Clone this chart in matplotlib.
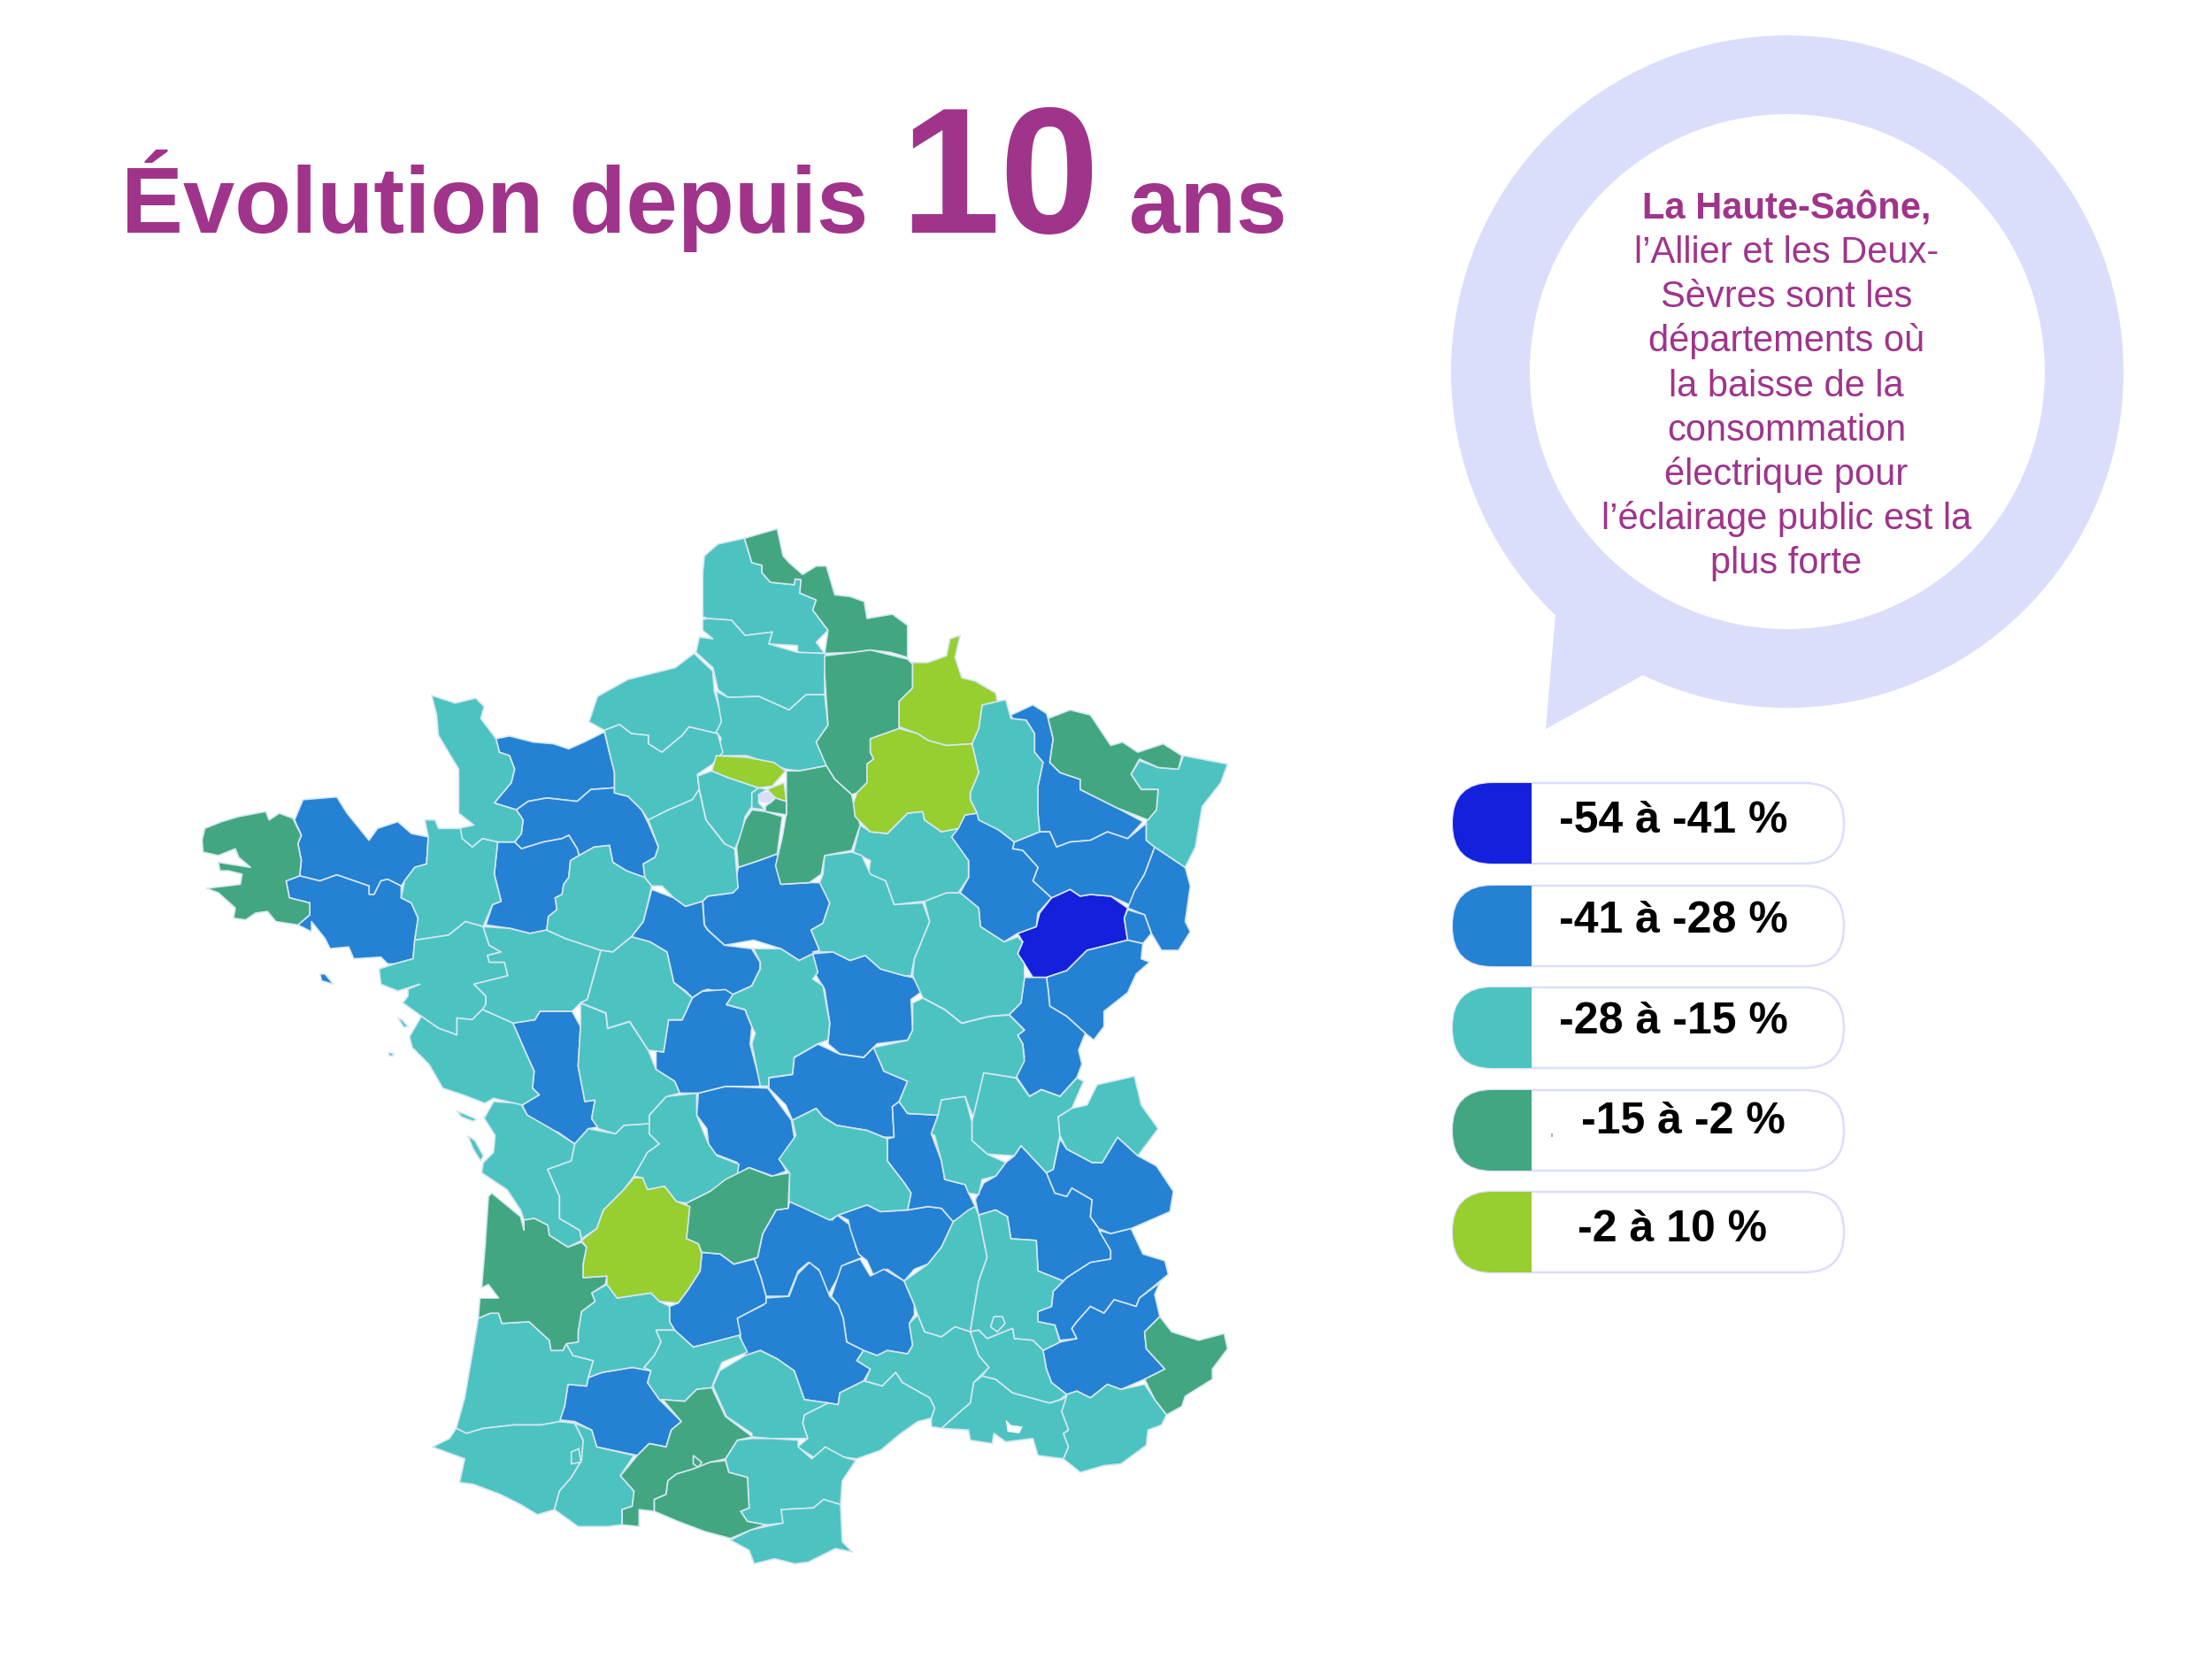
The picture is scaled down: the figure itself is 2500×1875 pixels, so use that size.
# -*- coding: utf-8 -*-
import matplotlib
matplotlib.use('Agg')
import matplotlib.pyplot as plt
from matplotlib.patches import Polygon, Circle, Rectangle, FancyBboxPatch

plt.rcParams['font.family'] = ['Liberation Sans', 'DejaVu Sans']

SCALE = 600 / 1568


# outlines were read on 4 crops of the picture, each one has its own origin
def tile(ox, oy, pts):
    return [(ox + x * SCALE, oy + y * SCALE) for x, y in pts]


def ta(pts):
    return tile(220, 590, pts)


def tb(pts):
    return tile(800, 590, pts)


def tc(pts):
    return tile(420, 1180, pts)


def td(pts):
    return tile(800, 1180, pts)


# departements
d59 = tb([(108,48),(205,20),(222,100),(240,120),(280,155),(320,130),(350,130),(375,215),(420,220),(462,235),(470,285),(545,272),(590,305),(590,400),(540,385),(480,378),(430,385),(345,388),(355,320),(310,260),(320,230),(272,210),(275,170),(258,168),(255,185),(185,178),(160,150),(160,128),(130,120)])
d62 = tb([(-10,100),(30,65),(108,48),(130,120),(160,128),(160,150),(185,178),(255,185),(258,168),(275,170),(272,210),(320,230),(310,260),(355,320),(320,355),(345,388),(265,385),(265,365),(180,360),(190,325),(110,335),(70,290),(0,285),(-15,280),(-15,150)])
d80 = tb([(-15,288),(0,285),(70,290),(110,335),(190,325),(180,360),(265,385),(345,388),(360,400),(345,450),(345,510),(290,510),(240,555),(150,515),(60,518),(30,495),(15,430),(-35,385),(-25,340),(15,345),(-15,320)])
d76 = ta([(1475,388),(1420,430),(1280,465),(1190,515),(1165,590),(1210,615),(1255,598),(1290,625),(1340,630),(1340,655),(1380,680),(1440,630),(1460,605),(1545,625),(1560,590),(1535,500),(1530,440)])
d60 = tb([(25,500),(60,518),(150,515),(240,555),(290,510),(345,510),(355,600),(320,650),(340,690),(350,720),(270,735),(230,730),(115,690),(20,690),(40,640),(25,620),(40,590)])
d27 = ta([(1210,615),(1255,598),(1290,625),(1340,630),(1340,655),(1380,680),(1440,630),(1460,605),(1545,625),(1560,680),(1530,715),(1485,745),(1490,790),(1470,820),(1400,850),(1340,880),(1320,850),(1280,810),(1240,800),(1240,740),(1225,680)])
d14 = ta([(890,640),(930,632),(1000,650),(1060,655),(1105,670),(1150,650),(1210,620),(1225,680),(1240,740),(1240,785),(1170,790),(1130,825),(1040,815),(985,825),(950,850),(885,830),(935,770),(945,730),(930,690),(900,680)])
d50 = ta([(700,512),(770,535),(830,520),(855,545),(845,580),(890,640),(900,680),(930,690),(945,730),(935,770),(885,830),(950,850),(970,880),(965,920),(945,945),(890,945),(850,935),(820,960),(790,935),(780,905),(825,895),(780,860),(780,730),(720,630),(715,570)])
d61 = ta([(950,850),(985,825),(1040,815),(1130,825),(1170,790),(1240,785),(1240,800),(1280,810),(1320,850),(1340,890),(1370,960),(1360,990),(1325,1010),(1330,1050),(1275,1030),(1235,1005),(1225,955),(1180,960),(1135,985),(1130,965),(1105,925),(1085,935),(1030,945),(965,965),(945,945),(965,920),(970,880)])
d53 = ta([(895,945),(945,945),(965,965),(1030,945),(1085,935),(1105,925),(1130,965),(1135,985),(1110,1000),(1105,1050),(1090,1070),(1085,1100),(1065,1110),(1070,1145),(1045,1165),(1040,1205),(990,1215),(930,1200),(860,1190),(880,1130),(905,1120),(885,1040)])
d35 = ta([(680,880),(710,880),(720,905),(785,905),(790,935),(820,960),(850,935),(895,945),(885,1040),(905,1120),(880,1130),(852,1195),(800,1180),(750,1220),(650,1235),(660,1170),(640,1125),(610,1110),(620,1060),(650,1020),(685,1010),(690,930)])
d22 = ta([(320,820),(420,812),(450,860),(515,940),(540,905),(600,885),(640,920),(690,930),(685,1010),(650,1020),(620,1060),(610,1075),(570,1055),(550,1060),(530,1100),(515,1100),(515,1075),(420,1042),(370,1060),(310,1045),(315,1000),(305,950),(315,925),(295,880)])
d29 = ta([(30,905),(80,885),(130,870),(210,855),(220,880),(250,860),(290,875),(315,925),(305,950),(315,1000),(310,1045),(270,1060),(280,1110),(340,1125),(340,1160),(305,1190),(240,1180),(215,1150),(180,1155),(150,1175),(115,1170),(120,1140),(70,1095),(35,1082),(135,1070),(140,1040),(100,1030),(75,1030),(70,1005),(165,1020),(130,990),(120,965),(70,985),(25,975),(22,940)])
d56 = ta([(270,1060),(310,1045),(370,1060),(420,1042),(515,1075),(515,1100),(530,1100),(550,1060),(570,1055),(610,1075),(610,1110),(640,1125),(660,1170),(650,1235),(645,1290),(590,1305),(570,1305),(550,1285),(470,1290),(455,1255),(400,1260),(385,1230),(345,1180),(345,1210),(315,1195),(305,1190),(340,1160),(340,1125),(280,1110)])
belle_ile = ta([(370,1335),(385,1335),(410,1365),(375,1355)])
d44 = ta([(650,1235),(750,1220),(800,1180),(852,1195),(870,1250),(905,1270),(865,1280),(870,1300),(915,1300),(925,1340),(825,1365),(860,1400),(860,1425),(850,1440),(820,1470),(775,1465),(775,1515),(720,1495),(670,1460),(615,1420),(630,1400),(630,1380),(665,1365),(600,1385),(550,1365),(545,1320),(590,1305),(645,1290)])
d49 = ta([(852,1195),(930,1200),(990,1215),(1040,1205),(1095,1230),(1200,1265),(1160,1410),(1140,1420),(1115,1445),(1020,1445),(1005,1470),(940,1480),(850,1440),(860,1425),(860,1400),(825,1365),(925,1340),(915,1300),(870,1300),(865,1280),(905,1270),(870,1250)])
d72 = ta([(1110,1000),(1135,985),(1180,960),(1225,955),(1235,1005),(1275,1030),(1330,1050),(1350,1075),(1340,1120),(1325,1180),(1290,1225),(1235,1270),(1200,1265),(1095,1230),(1040,1205),(1045,1165),(1070,1145),(1065,1110),(1085,1100),(1090,1070),(1105,1050)])
d28 = ta([(1340,880),(1400,850),(1470,820),(1490,790),(1510,880),(1565,950),(1595,965),(1600,1020),(1605,1080),(1590,1095),(1515,1105),(1500,1120),(1450,1135),(1415,1110),(1380,1075),(1350,1075),(1330,1050),(1325,1010),(1360,990),(1370,960)])
d78 = tb([(-30,750),(12,735),(60,755),(150,785),(130,800),(130,840),(110,870),(100,920),(80,965),(50,950),(-5,880),(-25,790)])
d95 = tb([(12,735),(25,690),(115,695),(195,710),(230,735),(190,780),(150,785),(60,755)])
d93 = tb([(175,790),(225,770),(232,825),(200,815)])
d92 = tb([(150,785),(175,790),(150,805),(150,830),(170,850),(130,845),(130,800)])
d75 = tb([(150,805),(175,798),(200,815),(185,830),(155,825)])
d94 = tb([(170,840),(200,815),(232,825),(232,865),(170,855)])
d91 = tb([(130,850),(170,855),(220,870),(205,980),(150,1000),(90,1020),(85,960),(110,880)])
d77 = tb([(232,735),(270,735),(350,720),(375,760),(425,805),(430,830),(450,895),(425,970),(345,985),(335,1040),(300,1065),(215,1070),(200,1015),(220,930),(232,860)])
d02 = tb([(345,395),(430,385),(480,378),(590,405),(605,420),(605,490),(565,530),(565,610),(480,640),(480,680),(490,700),(470,715),(470,770),(440,800),(425,805),(375,760),(350,720),(320,650),(355,600),(345,450)])
d08 = tb([(605,415),(650,415),(705,395),(715,345),(745,335),(730,400),(750,460),(790,470),(850,505),(855,530),(810,540),(800,610),(780,655),(705,660),(650,645),(620,625),(565,605),(565,530),(605,490)])
d51 = tb([(480,640),(565,610),(620,625),(650,645),(705,660),(780,655),(800,740),(775,800),(775,820),(795,860),(760,865),(740,905),(690,915),(640,880),(635,855),(590,860),(530,920),(480,915),(435,870),(430,830),(440,800),(470,770),(470,715),(490,700),(480,680)])
d55 = tb([(810,540),(855,530),(880,525),(895,580),(940,585),(965,625),(965,680),(990,710),(975,780),(975,860),(980,915),(905,945),(860,910),(800,880),(795,860),(775,820),(775,800),(800,740),(780,655),(800,610)])
d57 = tb([(1005,580),(1070,555),(1130,570),(1190,660),(1225,650),(1270,680),(1345,655),(1400,690),(1390,730),(1330,725),(1275,700),(1250,745),(1280,790),(1330,790),(1325,850),(1300,880),(1210,845),(1100,790),(1100,760),(1040,740),(1010,710),(1020,640)])
d54 = tb([(895,570),(960,540),(1000,565),(1005,580),(1020,640),(1010,710),(1040,740),(1100,760),(1100,790),(1210,845),(1285,885),(1240,935),(1180,915),(1130,940),(1070,945),(1030,960),(1010,915),(980,915),(975,860),(975,780),(990,710),(965,680),(965,625),(940,585),(905,590)])
d67 = tb([(1275,705),(1330,725),(1390,730),(1405,690),(1535,715),(1515,770),(1460,840),(1440,960),(1410,1020),(1320,960),(1295,940),(1295,885),(1325,850),(1330,790),(1280,790),(1250,745)])
d88 = tb([(905,945),(980,915),(1010,915),(1030,960),(1070,945),(1130,940),(1180,915),(1240,935),(1295,890),(1295,940),(1320,960),(1290,1040),(1260,1090),(1255,1135),(1190,1105),(1130,1100),(1100,1105),(1070,1085),(1015,1110),(960,1060),(975,1020),(930,970),(900,965)])
d68 = tb([(1320,960),(1410,1020),(1425,1075),(1410,1180),(1425,1210),(1390,1265),(1340,1265),(1310,1215),(1290,1160),(1240,1140),(1260,1090),(1290,1040)])
d90 = tb([(1240,1145),(1290,1160),(1310,1215),(1285,1245),(1240,1235),(1230,1170)])
d70 = tb([(915,1215),(970,1195),(980,1155),(1015,1110),(1070,1085),(1100,1105),(1130,1100),(1190,1105),(1240,1140),(1230,1170),(1240,1235),(1180,1250),(1120,1265),(1060,1325),(1000,1345),(960,1345),(935,1305),(915,1275),(930,1240)])
d25 = tb([(1000,1345),(1060,1325),(1120,1265),(1180,1250),(1240,1235),(1285,1245),(1280,1290),(1305,1300),(1265,1335),(1240,1390),(1170,1445),(1170,1490),(1140,1530),(1115,1510),(1060,1460),(1010,1430),(1005,1380)])
d39 = tb([(935,1345),(1000,1345),(1005,1380),(1010,1430),(1060,1460),(1115,1510),(1095,1560),(1105,1601),(1090,1641),(1040,1696),(985,1676),(950,1696),(910,1636),(935,1581),(930,1541),(915,1515),(935,1500),(890,1455),(925,1420)])
d21 = tb([(640,1120),(705,1095),(745,1095),(800,1140),(805,1195),(875,1240),(915,1225),(930,1240),(915,1275),(935,1305),(935,1350),(925,1420),(890,1455),(830,1460),(750,1480),(700,1440),(635,1405),(605,1340),(610,1290),(655,1180)])
d52 = tb([(720,930),(760,865),(795,860),(860,910),(905,945),(900,965),(930,970),(975,1020),(960,1060),(1015,1110),(975,1155),(970,1195),(915,1215),(875,1240),(805,1195),(800,1140),(745,1095),(770,1050),(770,1000),(725,950)])
d10 = tb([(450,895),(480,915),(530,920),(590,860),(635,855),(640,880),(690,915),(740,905),(720,930),(770,1000),(770,1050),(740,1095),(705,1095),(640,1120),(550,1130),(525,1060),(475,1040),(480,1000),(430,975)])
d89 = tb([(345,985),(425,975),(455,985),(480,1040),(525,1060),(550,1130),(635,1125),(655,1180),(610,1290),(600,1340),(580,1340),(510,1320),(465,1280),(420,1295),(370,1270),(310,1270),(330,1265),(305,1205),(340,1185),(360,1125),(330,1065),(340,1040)])
d45 = tb([(90,1020),(150,1000),(205,980),(220,1070),(300,1065),(335,1065),(360,1125),(340,1185),(305,1205),(330,1265),(270,1295),(215,1260),(135,1235),(50,1250),(0,1205),(-10,1190),(-15,1120),(0,1105),(75,1095)])
d41 = ta([(1350,1085),(1325,1180),(1290,1225),(1345,1240),(1395,1270),(1415,1360),(1450,1385),(1470,1405),(1500,1385),(1515,1380),(1590,1395),(1645,1370),(1670,1320),(1670,1300),(1645,1260),(1565,1250),(1515,1205),(1505,1190),(1500,1120),(1450,1135),(1415,1110)])
d18 = tb([(135,1260),(215,1260),(270,1295),(310,1275),(325,1330),(310,1350),(340,1370),(360,1480),(355,1530),(325,1541),(255,1581),(250,1631),(180,1641),(180,1666),(155,1666),(130,1541),(140,1510),(130,1490),(110,1440),(55,1425),(75,1395),(130,1370),(155,1320),(155,1300)])
d58 = tb([(310,1275),(370,1270),(420,1295),(465,1280),(510,1320),(580,1340),(605,1345),(635,1385),(600,1410),(605,1500),(590,1530),(500,1541),(490,1551),(460,1581),(390,1571),(355,1541),(360,1480),(345,1380),(320,1340)])
d71 = td([(605,-121),(635,-136),(700,-101),(750,-61),(830,-81),(890,-86),(935,-41),(915,-26),(930,0),(935,50),(910,100),(815,85),(790,230),(775,195),(760,155),(690,165),(680,210),(590,205),(565,170),(590,110),(520,80),(490,10),(590,-11),(605,-41)])
d01 = td([(815,85),(910,100),(950,155),(985,135),(1040,155),(1090,100),(1110,110),(1075,190),(1035,215),(1040,270),(1020,370),(1000,380),(925,300),(905,330),(825,325),(780,285),(780,230)])
d74 = td([(1035,215),(1075,190),(1120,180),(1150,120),(1260,95),(1280,180),(1330,250),(1270,330),(1210,275),(1165,350),(1135,350),(1060,310),(1040,270)])
d73 = td([(1040,280),(1060,310),(1135,350),(1165,350),(1210,275),(1270,330),(1325,360),(1375,435),(1365,495),(1250,545),(1190,560),(1155,545),(1130,510),(1135,460),(1075,425),(1060,450),(1025,440),(1000,380),(1020,370)])
d69 = td([(690,165),(760,155),(780,230),(780,285),(825,325),(880,350),(850,390),(810,400),(800,445),(770,440),(760,415),(700,400),(690,345),(670,270),(660,265),(680,210)])
d42 = td([(590,205),(680,210),(660,265),(690,345),(700,400),(760,415),(770,440),(790,480),(725,525),(690,485),(650,480),(590,490),(600,440),(580,410),(530,345),(530,280),(550,275),(545,185),(565,170)])
d03 = td([(180,100),(250,90),(255,40),(325,0),(390,30),(460,40),(490,10),(520,80),(590,110),(565,170),(545,185),(550,275),(520,275),(470,255),(380,240),(340,215),(320,190),(250,225),(230,180),(180,130)])
d23 = td([(-28,145),(52,125),(177,130),(247,225),(257,285),(212,340),(232,375),(192,390),(122,365),(87,385),(87,350),(22,325),(2,295),(-3,250),(-33,210)])
d63 = td([(250,225),(320,190),(340,215),(380,240),(470,255),(530,280),(530,345),(580,410),(600,440),(590,490),(510,495),(470,475),(385,505),(360,520),(285,485),(240,465),(240,380),(210,340),(260,270)])
d19 = tc([(930,470),(1000,435),(1045,400),(1115,365),(1180,390),(1235,380),(1230,485),(1195,490),(1155,560),(1140,630),(1070,650),(1030,620),(975,615),(965,590),(930,575),(935,515)])
d15 = tc([(1235,465),(1330,490),(1360,520),(1375,505),(1420,540),(1430,600),(1450,630),(1400,650),(1360,720),(1350,740),(1320,665),(1290,645),(1260,670),(1230,745),(1165,745),(1150,690),(1130,635),(1140,630),(1155,560),(1195,490),(1230,485)])
d43 = td([(385,505),(470,475),(510,495),(590,490),(650,480),(690,485),(725,525),(690,600),(650,650),(610,665),(580,700),(530,665),(490,685),(470,640),(445,620),(435,590),(420,545),(415,520)])
d48 = td([(365,745),(395,655),(450,635),(480,685),(520,665),(580,700),(610,770),(610,800),(595,825),(605,890),(590,915),(530,905),(500,920),(460,905),(410,880),(400,810),(385,770)])
d12 = td([(170,750),(240,745),(265,680),(300,645),(330,670),(360,745),(385,770),(400,810),(410,880),(460,905),(440,935),(480,960),(460,995),(390,1030),(385,1065),(355,1060),(320,1055),(285,1050),(255,965),(205,930),(155,905),(110,920),(95,860),(85,810),(165,770)])
d07 = td([(580,700),(650,650),(690,600),(725,525),(770,490),(790,480),(800,505),(825,630),(800,700),(775,850),(730,835),(690,865),(640,850),(620,800),(610,770)])
d26 = td([(800,505),(850,490),(885,510),(895,575),(970,580),(975,670),(1050,700),(1020,730),(1015,775),(975,790),(975,820),(1025,830),(1040,880),(990,905),(960,875),(905,870),(900,840),(825,870),(800,845),(775,850),(800,700),(825,630)])
d38 = td([(790,460),(815,410),(850,390),(880,350),(905,330),(925,300),(1000,380),(1025,440),(1060,450),(1075,425),(1135,460),(1130,510),(1155,545),(1190,610),(1190,635),(1130,645),(1060,690),(1050,700),(975,670),(970,580),(895,575),(885,510),(850,490),(800,505)])
d05 = td([(1155,550),(1190,560),(1250,545),(1285,620),(1350,640),(1360,680),(1330,705),(1275,750),(1265,775),(1200,755),(1170,795),(1130,775),(1090,820),(1075,840),(1090,870),(1040,875),(1025,830),(975,820),(975,790),(1015,775),(1020,730),(1060,690),(1130,645),(1190,635),(1190,610)])
d04 = td([(1040,880),(1090,870),(1075,840),(1090,820),(1130,775),(1170,795),(1200,755),(1265,775),(1275,750),(1335,705),(1320,740),(1335,805),(1290,850),(1295,900),(1350,960),(1290,990),(1220,1020),(1180,1005),(1130,1045),(1090,1025),(1060,1035),(1015,1000),(1000,960),(990,905)])
d06 = td([(1335,805),(1370,850),(1450,875),(1525,855),(1535,900),(1490,960),(1490,990),(1410,1040),(1400,1070),(1355,1095),(1320,1050),(1290,990),(1350,960),(1295,900),(1290,850)])
d83 = td([(1060,1035),(1090,1025),(1130,1045),(1180,1005),(1220,1020),(1290,1005),(1320,1050),(1355,1095),(1340,1125),(1300,1140),(1295,1185),(1220,1240),(1170,1245),(1100,1265),(1050,1225),(1065,1190),(1050,1150),(1065,1140),(1045,1085)])
d13 = td([(810,980),(850,990),(900,1030),(1010,1060),(1045,1050),(1060,1040),(1045,1085),(1065,1140),(1050,1150),(1065,1190),(1050,1225),(975,1215),(960,1165),(880,1175),(845,1150),(840,1180),(775,1170),(770,1140),(690,1135),(740,1090),(775,1060),(785,1000)])
d84 = td([(775,850),(800,845),(825,870),(900,840),(905,870),(960,875),(990,905),(1000,960),(1015,1000),(1060,1035),(1040,1050),(1010,1060),(900,1030),(850,990),(810,980),(830,955),(800,920)])
d30 = td([(440,935),(460,905),(500,920),(530,905),(590,915),(605,890),(595,825),(620,800),(640,850),(690,865),(730,835),(775,850),(800,920),(830,955),(785,1000),(775,1060),(740,1090),(690,1135),(660,1130),(660,1105),(670,1075),(655,1045),(575,1000),(555,970),(515,1010),(465,995),(480,960)])
d34 = td([(285,1095),(355,1060),(385,1065),(390,1030),(460,995),(515,1010),(555,970),(575,1000),(655,1045),(670,1075),(660,1105),(620,1115),(570,1150),(510,1200),(440,1225),(400,1220),(345,1190),(320,1225),(265,1190),(295,1165),(280,1120)])
d81 = td([(15,1010),(35,965),(110,920),(155,905),(205,930),(255,965),(285,1050),(355,1060),(285,1095),(280,1120),(295,1165),(185,1165),(130,1160),(130,1150),(55,1100)])
d24 = tc([(775,395),(800,395),(815,430),(865,420),(900,465),(940,480),(930,575),(965,590),(975,620),(970,670),(935,725),(905,765),(850,760),(825,735),(725,750),(695,710),(695,685),(625,690),(625,650),(635,600),(620,580),(665,545),(685,490),(745,430)])
d33 = tc([(345,450),(355,440),(440,510),(450,550),(450,520),(480,515),(520,535),(525,565),(580,600),(620,585),(635,600),(625,650),(625,690),(695,685),(690,710),(650,735),(660,760),(620,790),(610,850),(610,880),(575,885),(565,905),(530,905),(525,875),(465,820),(385,825),(375,795),(350,795),(315,810),(320,750),(375,750),(345,710),(325,720),(335,600)])
d40 = tc([(315,810),(350,795),(375,795),(385,825),(465,820),(525,875),(530,905),(565,905),(575,885),(595,920),(655,935),(640,985),(635,1010),(580,1005),(570,1070),(555,1115),(500,1125),(420,1125),(330,1135),(280,1150),(250,1135),(275,1045),(300,900)])
d64 = tc([(250,1135),(280,1150),(330,1135),(420,1125),(500,1125),(555,1115),(600,1120),(625,1170),(620,1230),(590,1280),(555,1320),(540,1375),(490,1390),(440,1360),(380,1330),(300,1300),(260,1295),(275,1225),(180,1190),(230,1165)])
d65 = tc([(600,1120),(650,1140),(665,1190),(775,1215),(735,1275),(775,1320),(770,1365),(740,1375),(740,1420),(695,1425),(610,1425),(540,1375),(555,1320),(590,1280),(620,1230),(625,1170)])
d32 = tc([(580,1005),(635,1010),(640,985),(680,970),(770,955),(825,965),(815,1000),(850,1050),(915,1115),(885,1140),(870,1190),(820,1180),(785,1215),(665,1190),(650,1140),(600,1115),(555,1110),(570,1070)])
d47 = tc([(695,710),(725,750),(825,735),(850,760),(880,775),(880,820),(895,845),(840,845),(855,880),(835,920),(805,955),(825,965),(770,955),(680,970),(640,985),(655,935),(595,920),(575,885),(610,880),(610,850),(620,790),(660,760),(650,735)])
d46 = tc([(905,765),(935,725),(970,670),(975,615),(1030,620),(1070,650),(1130,635),(1150,690),(1165,745),(1165,765),(1080,810),(1090,860),(1010,880),(950,895),(895,845),(880,820),(880,775)])
d82 = tc([(840,845),(895,845),(950,895),(1010,880),(1085,860),(1110,910),(1035,940),(1010,1000),(1005,1015),(960,1020),(925,1055),(850,1050),(815,1000),(825,965),(805,955),(835,920),(855,880)])
d31 = tc([(860,1050),(925,1055),(960,1020),(1005,1015),(1045,1100),(1125,1160),(1080,1170),(1045,1225),(1000,1235),(950,1255),(900,1270),(875,1290),(870,1330),(835,1345),(835,1380),(790,1375),(790,1425),(740,1420),(740,1375),(770,1365),(775,1320),(735,1275),(785,1215),(820,1180),(870,1190),(885,1140),(915,1115)])
d09 = tc([(835,1345),(870,1330),(875,1290),(900,1270),(950,1255),(1000,1235),(1045,1230),(1055,1265),(1110,1280),(1115,1370),(1090,1380),(1110,1410),(1165,1420),(1120,1435),(1060,1460),(985,1440),(905,1410),(835,1380)])
d11 = tc([(1125,1165),(1180,1165),(1260,1170),(1260,1190),(1300,1225),(1340,1190),(1395,1220),(1430,1230),(1390,1290),(1385,1360),(1335,1345),(1305,1370),(1210,1375),(1215,1415),(1165,1420),(1110,1410),(1090,1380),(1115,1370),(1110,1280),(1055,1265),(1045,1225),(1080,1170)])
d66 = tc([(1060,1465),(1120,1435),(1165,1425),(1215,1415),(1210,1375),(1305,1370),(1335,1345),(1385,1360),(1390,1470),(1420,1500),(1370,1490),(1290,1530),(1250,1535),(1190,1520),(1130,1535),(1115,1495)])
d17 = tc([(335,215),(360,170),(440,175),(460,210),(530,250),(600,295),(590,345),(520,370),(555,450),(555,515),(615,550),(620,580),(580,600),(525,565),(520,535),(480,515),(450,520),(440,490),(400,430),(325,380),(330,350),(360,320),(365,270),(330,215)])
d16 = tc([(600,295),(640,250),(720,265),(745,240),(820,235),(820,265),(850,295),(815,320),(775,390),(745,430),(685,490),(665,545),(620,575),(615,550),(555,515),(555,450),(520,370),(590,345)])
d87 = tc([(775,390),(815,320),(850,295),(820,265),(820,210),(870,155),(960,145),(960,210),(995,295),(1020,330),(1085,355),(1080,385),(1000,435),(930,470),(900,465),(865,420),(815,430),(800,395)])
d86 = tc([(617,-121),(692,-91),(697,-46),(762,-66),(817,18),(840,75),(895,110),(910,145),(870,155),(820,210),(820,235),(745,240),(720,265),(670,250),(650,220),(660,165),(630,170),(610,65),(617,-52)])
d79 = tc([(417,-62),(482,-72),(497,-97),(592,-97),(617,-52),(610,65),(630,170),(660,165),(650,220),(670,245),(640,250),(600,295),(550,260),(470,235),(445,180),(495,150),(475,130),(480,80),(452,18)])
d85 = tc([(147,-82),(197,-47),(252,-27),(252,-77),(297,-72),(327,-102),(417,-62),(452,18),(480,80),(475,130),(495,150),(445,180),(360,160),(335,175),(270,150),(210,130),(170,60),(120,10),(112,-22)])
d37 = ta([(1200,1265),(1235,1270),(1290,1225),(1345,1240),(1395,1270),(1415,1360),(1470,1405),(1440,1470),(1400,1470),(1385,1565),(1340,1560),(1285,1475),(1220,1495),(1215,1450),(1140,1420),(1160,1410)])
d36 = tc([(947,-136),(977,-156),(1045,-161),(1068,-146),(1048,-116),(1103,-101),(1123,-51),(1118,0),(1148,115),(1145,125),(1045,125),(965,145),(910,145),(895,110),(840,75),(840,20),(862,24),(877,-71),(917,-71)])
re_island = tc([(252,198),(270,205),(310,222),(300,228),(265,215)])
oleron = tc([(285,272),(305,285),(330,330),(322,345),(300,310)])
noirmoutier = ta([(600,1465),(612,1470),(630,1490),(618,1492)])
yeu = tc([(50,25),(65,28),(62,36),(52,34)])

# trous et enclaves
berre = td([(880,1110),(895,1125),(930,1130),(920,1150),(885,1145)])
arcachon = tc([(325,750),(335,715),(375,750)])
enclave_vaucluse = td([(845,805),(870,805),(878,825),(855,850),(835,835)])
enclave_ariege = tc([(950,1215),(975,1235),(965,1250),(950,1240)])
enclave_pau = tc([(590,1205),(612,1195),(618,1235),(590,1240)])

# classes, same order as the legend
class_1 = [d70]
class_2 = [d14, d61, d53, d22, d56, belle_ile, d54, d88, d68, d90, d52, d25, d39, d45, d41, d58, d03, d23,
           d15, d43, d48, d12, d42, d38, d73, d05, d04, d32, d46, d79, d36]
class_3 = [d62, d80, d76, d60, d27, d50, d35, d44, d49, d72, d28, d78, d92, d55, d67, d21, d10, d89, d18,
           d71, d01, d74, d69, d63, d07, d26, d83, d13, d84, d30, d34, d81, d40, d64, d65, d47, d82,
           d11, d66, d17, d16, d87, d86, d85, d37, re_island, oleron, noirmoutier, yeu]
class_4 = [d59, d29, d02, d77, d91, d94, d57, d19, d06, d33, d31, d09]
class_5 = [d08, d51, d95, d93, d24]
enclaves_3 = [enclave_vaucluse, enclave_pau]
enclaves_4 = [enclave_ariege]
holes = [berre, arcachon]

class_colors = ['#1520dc', '#2581d3', '#4cc3c1', '#42a780', '#97ce30']
legend_labels = ['-54 à -41 %', '-41 à -28 %', '-28 à -15 %', '-15 à -2 %', '-2 à 10 %']
legend_tops = [885, 1001, 1116, 1232, 1347]
legend_text_x = [1762, 1762, 1762, 1787, 1783]
legend_text_y = [941, 1054, 1168, 1281, 1403]

bubble_lines = ['La Haute-Saône,', 'l’Allier et les Deux-', 'Sèvres sont les', 'départements où',
                'la baisse de la', 'consommation', 'électrique pour',
                'l’éclairage public est la', 'plus forte']
bubble_y = [247, 297, 347, 397, 448, 498, 548, 598, 648]

PURPLE = '#a0348b'
LAVENDER = '#dbdefb'
BORDER = '#d5e6f2'

fig = plt.figure(figsize=(12.5, 9.375), dpi=200)
ax = fig.add_axes([0, 0, 1, 1])
ax.set_xlim(0, 2500)
ax.set_ylim(1875, 0)
ax.axis('off')

# titre
ax.text(137, 263, 'Évolution depuis', color=PURPLE, fontsize=37.7, fontweight='bold')
ax.text(1017, 263, '10', color=PURPLE, fontsize=73, fontweight='bold')
ax.text(1276, 263, 'ans', color=PURPLE, fontsize=37.3, fontweight='bold')

# bulle
ax.add_patch(Circle((2020, 420), 380, fc=LAVENDER, ec='none'))
ax.add_patch(Polygon([(1758, 694), (1747, 824), (1857, 763), (1900, 700)], fc=LAVENDER, ec='none'))
ax.add_patch(Circle((2020, 420), 291, fc='white', ec='none'))
for i, line in enumerate(bubble_lines):
    ax.text(2019, bubble_y[i], line, color=PURPLE, fontsize=15, ha='center',
            fontweight='bold' if i == 0 else 'normal')

# carte
groups = [class_1, class_2, class_3, class_4, class_5]
for color, group in zip(class_colors, groups):
    for outline in group:
        ax.add_patch(Polygon(outline, fc=color, ec=BORDER, lw=0.6, joinstyle='round'))
ax.add_patch(Polygon(d75, fc=LAVENDER, ec=BORDER, lw=0.5))
for outline in enclaves_3:
    ax.add_patch(Polygon(outline, fc=class_colors[2], ec=BORDER, lw=0.6))
for outline in enclaves_4:
    ax.add_patch(Polygon(outline, fc=class_colors[3], ec=BORDER, lw=0.6))
for outline in holes:
    ax.add_patch(Polygon(outline, fc='white', ec='none'))

# legende
for color, label, top, tx, ty in zip(class_colors, legend_labels, legend_tops, legend_text_x, legend_text_y):
    pill = FancyBboxPatch((1642, top), 442, 91, boxstyle='round,pad=0,rounding_size=45',
                          fc='white', ec=LAVENDER, lw=0.9)
    ax.add_patch(pill)
    swatch = Rectangle((1642, top), 89, 91, fc=color, ec='none')
    ax.add_patch(swatch)
    swatch.set_clip_path(pill)
    ax.text(tx, ty, label, color='black', fontsize=18, fontweight='bold')
ax.add_patch(Rectangle((1753, 1281), 2, 4, fc='#b0b0b0', ec='none'))

fig.savefig('out.png', dpi=200)
